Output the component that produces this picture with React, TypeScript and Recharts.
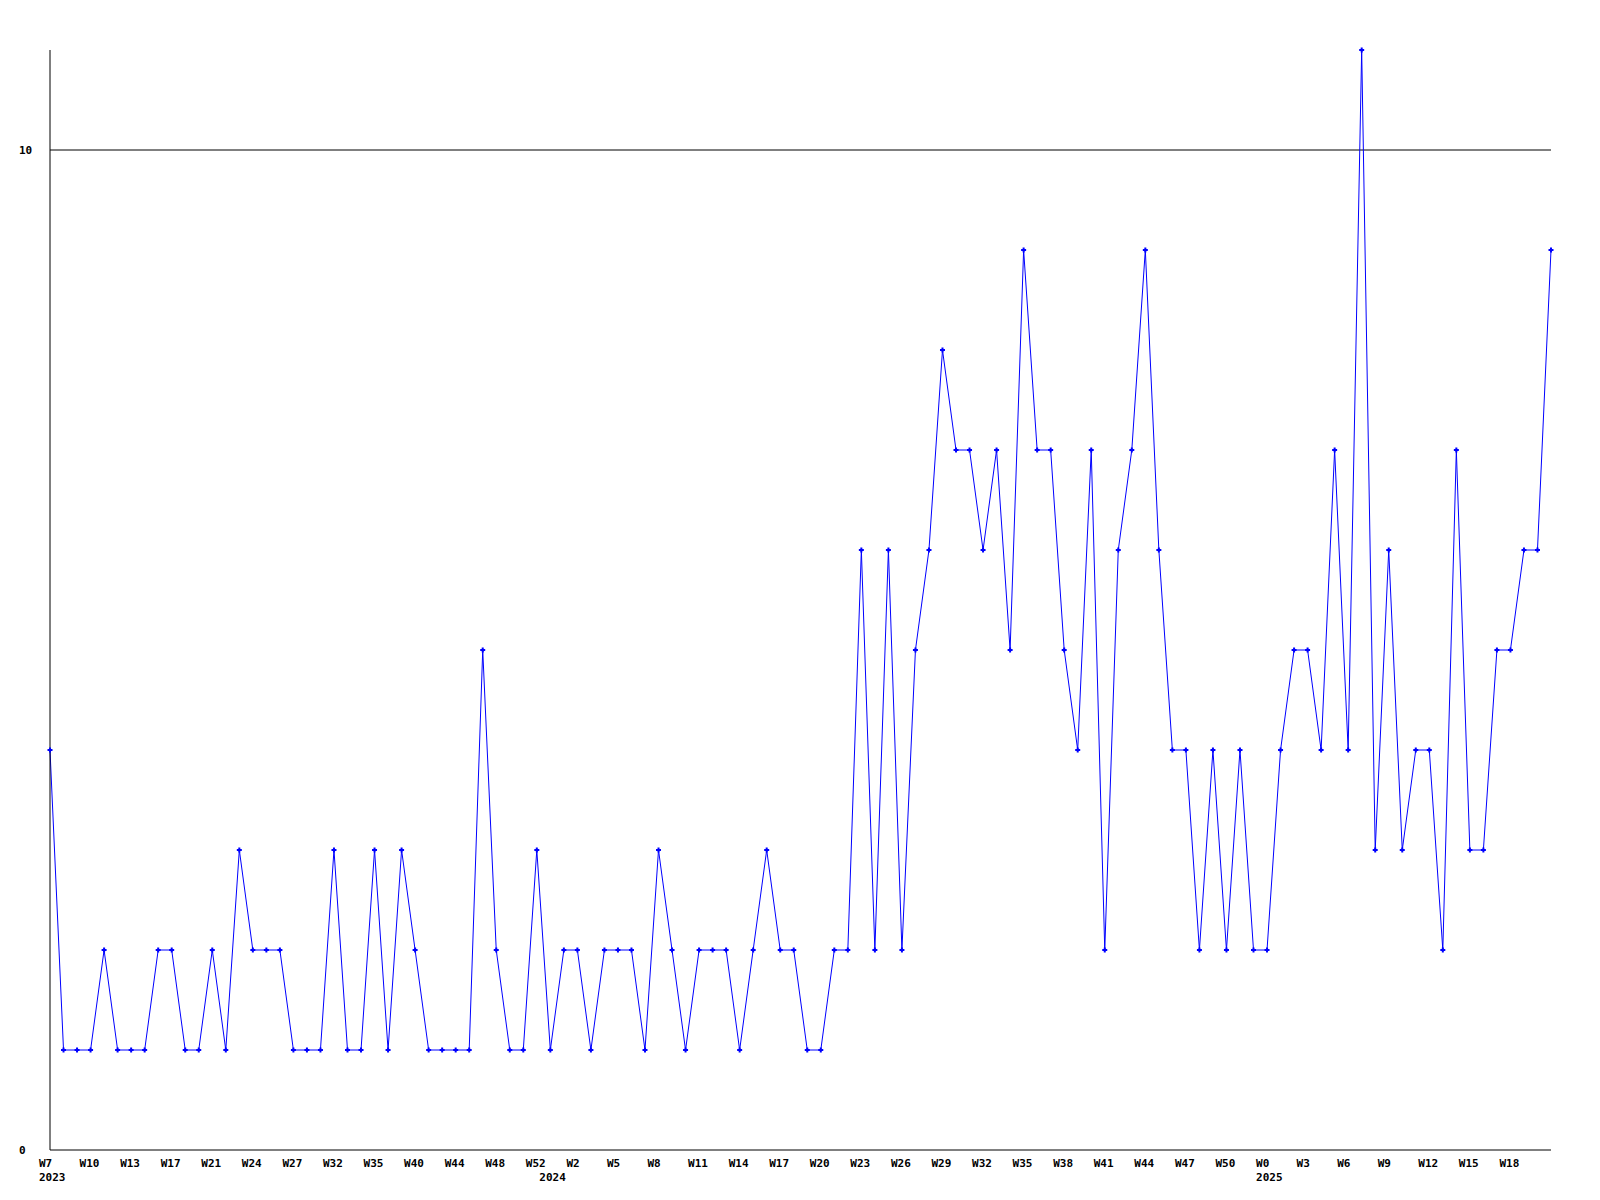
import { LineChart, Line, XAxis, YAxis, ReferenceLine } from "recharts";

// week labels per year (only every 3rd one is printed on the axis)
const weeks2023 = [
  "W7", "W8", "W9", "W10", "W11", "W12", "W13", "W14", "W15", "W17",
  "W18", "W19", "W21", "W22", "W23", "W24", "W25", "W26", "W27", "W29",
  "W30", "W32", "W33", "W34", "W35", "W37", "W38", "W40", "W41", "W43",
  "W44", "W45", "W46", "W48", "W49", "W51", "W52",
];
const weeks2024 = [
  "W0", "W1", "W2", "W3", "W4", "W5", "W6", "W7", "W8", "W9",
  "W10", "W11", "W12", "W13", "W14", "W15", "W16", "W17", "W18", "W19",
  "W20", "W21", "W22", "W23", "W24", "W25", "W26", "W27", "W28", "W29",
  "W30", "W31", "W32", "W33", "W34", "W35", "W36", "W37", "W38", "W39",
  "W40", "W41", "W42", "W43", "W44", "W45", "W46", "W47", "W48", "W49",
  "W50", "W51", "W52",
];
const weeks2025 = [
  "W0", "W1", "W2", "W3", "W4", "W5", "W6", "W7", "W8", "W9",
  "W10", "W11", "W12", "W13", "W14", "W15", "W16", "W17", "W18", "W19",
  "W20", "W21",
];

const counts = [
  4, 1, 1, 1, 2, 1, 1, 1, 2, 2,
  1, 1, 2, 1, 3, 2, 2, 2, 1, 1,
  1, 3, 1, 1, 3, 1, 3, 2, 1, 1,
  1, 1, 5, 2, 1, 1, 3, 1, 2, 2,
  1, 2, 2, 2, 1, 3, 2, 1, 2, 2,
  2, 1, 2, 3, 2, 2, 1, 1, 2, 2,
  6, 2, 6, 2, 5, 6, 8, 7, 7, 6,
  7, 5, 9, 7, 7, 5, 4, 7, 2, 6,
  7, 9, 6, 4, 4, 2, 4, 2, 4, 2,
  2, 4, 5, 5, 4, 7, 4, 11, 3, 6,
  3, 4, 4, 2, 7, 3, 3, 5, 5, 6,
  6, 9,
];

const yTicks = [0, 10];
const labelEvery = 3;

const rows = [
  ...weeks2023.map((w) => ({ year: "2023", week: w })),
  ...weeks2024.map((w) => ({ year: "2024", week: w })),
  ...weeks2025.map((w) => ({ year: "2025", week: w })),
].map((r, i) => ({ ...r, key: `${r.year}-${r.week}`, value: counts[i] }));

const font = {
  fontFamily: "'DejaVu Sans Mono', monospace",
  fontSize: 11,
  fontWeight: "bold" as const,
  fill: "#000",
};

function WeekTick(props: any) {
  const { x, y, index } = props;
  const row = rows[index];
  if (!row) return null;
  const firstOfYear = index === 0 || rows[index - 1].year !== row.year;
  // the last category has no room for a label at the right edge
  const showWeek = index % labelEvery === 0 && index < rows.length - 1;
  return (
    <g>
      {showWeek && (
        <text x={x - 11} y={y + 17} textAnchor="start" {...font}>
          {row.week}
        </text>
      )}
      {firstOfYear && (
        <text x={x - 11} y={y + 31} textAnchor="start" {...font}>
          {row.year}
        </text>
      )}
    </g>
  );
}

function CountTick(props: any) {
  const { y, payload } = props;
  return (
    <text x={19} y={y + 4} textAnchor="start" {...font}>
      {payload.value}
    </text>
  );
}

function PlusDot(props: any) {
  const { cx, cy } = props;
  if (cx == null || cy == null) return null;
  return (
    <path
      d={`M${cx - 2.5},${cy}H${cx + 2.5}M${cx},${cy - 2.5}V${cy + 2.5}`}
      stroke="#0000ff"
      strokeWidth={2}
      fill="none"
    />
  );
}

export default function App() {
  return (
    <div style={{ position: "absolute", left: 0, top: 0, width: 1600, height: 1200, background: "#fff" }}>
      <LineChart
        width={1600}
        height={1200}
        data={rows}
        margin={{ top: 50, right: 49, bottom: 0, left: 0 }}
      >
        <XAxis
          dataKey="key"
          interval={0}
          height={50}
          tickSize={0}
          tickMargin={0}
          tickLine={false}
          axisLine={{ stroke: "#000", strokeWidth: 1 }}
          tick={<WeekTick />}
        />
        <YAxis
          width={50}
          domain={[0, 11]}
          ticks={yTicks}
          tickLine={false}
          axisLine={{ stroke: "#000", strokeWidth: 1 }}
          tick={<CountTick />}
        />
        <ReferenceLine y={10} stroke="#000" strokeWidth={1} />
        <Line
          type="linear"
          dataKey="value"
          stroke="#0000ff"
          strokeWidth={1}
          dot={<PlusDot />}
          activeDot={false}
          isAnimationActive={false}
        />
      </LineChart>
    </div>
  );
}
